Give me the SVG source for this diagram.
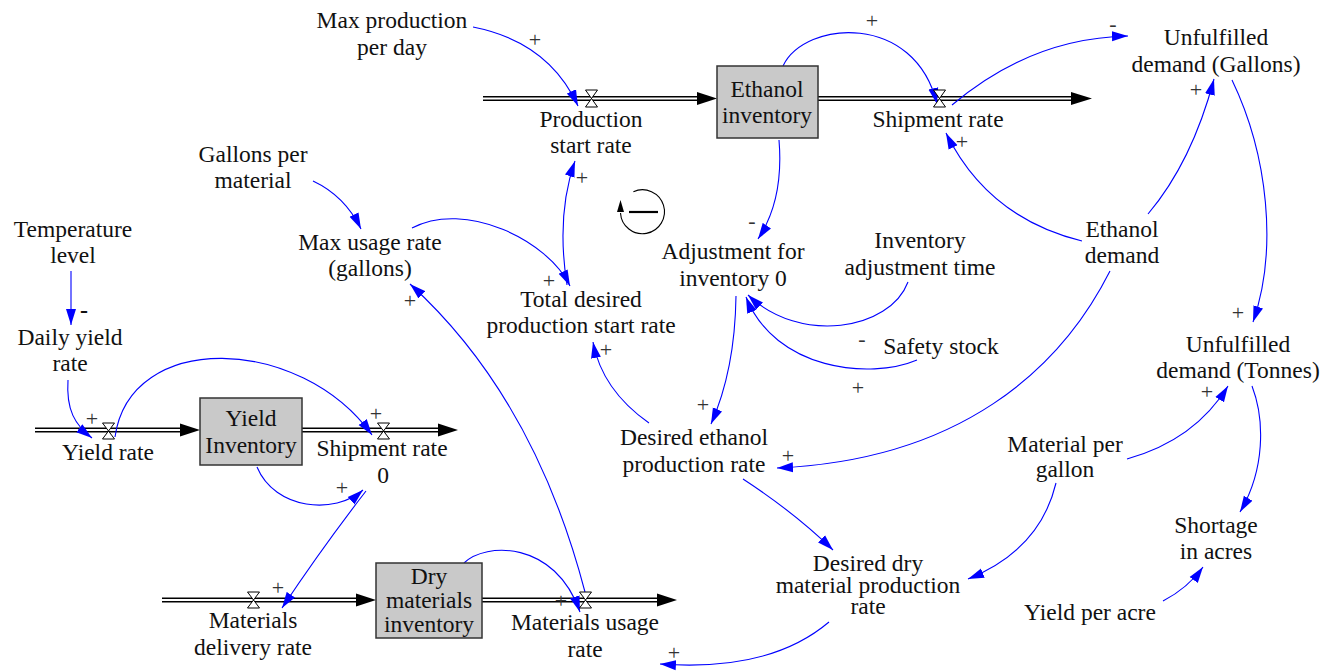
<svg xmlns="http://www.w3.org/2000/svg" width="1336" height="671" viewBox="0 0 1336 671" font-family="'Liberation Serif', Tinos, 'Times New Roman', Times, 'DejaVu Serif', serif">
<defs>
<style>
text { font-family: "Liberation Serif", Tinos, "Times New Roman", Times, "DejaVu Serif", serif; font-size: 23.5px; fill: #111; text-anchor: middle; }
.pol { fill: #333; font-size: 22px; }
.neg { fill: #111; font-size: 24px; font-weight: bold; }
.lnk { fill: none; stroke: #0000ff; stroke-width: 1.1; marker-end: url(#ah); }
.stock { fill: #c9c9c9; stroke: #333; stroke-width: 1.5; }
.pipeO { stroke: #000; stroke-width: 5; fill: none; }
.pipeI { stroke: #fff; stroke-width: 2; fill: none; }
.valve { fill: #fff; stroke: #000; stroke-width: 1; }
.fh { fill: #000; }
.loop { fill: none; stroke: #000; stroke-width: 1.1; }
</style>
<marker id="ah" markerUnits="userSpaceOnUse" markerWidth="17" markerHeight="11" refX="16" refY="5.5" orient="auto" viewBox="0 0 17 11">
<path d="M0,0.5 L16,5.5 L0,10.5 z" fill="#0000ff"/>
</marker>
</defs>

<g id="flows">
<path class="pipeO" d="M483,98.5 H699"/><path class="pipeI" d="M481,98.5 H699"/>
<path class="fh" d="M697,92 L717,98.5 L697,105 z"/>
<path class="pipeO" d="M818,98.5 H1074"/><path class="pipeI" d="M818,98.5 H1074"/>
<path class="fh" d="M1071,92 L1092,98.5 L1071,105 z"/>
<path class="pipeO" d="M35,430 H182"/><path class="pipeI" d="M33,430 H182"/>
<path class="fh" d="M180,423.5 L200,430 L180,436.5 z"/>
<path class="pipeO" d="M302,430 H440"/><path class="pipeI" d="M302,430 H440"/>
<path class="fh" d="M438,423.5 L458,430 L438,436.5 z"/>
<path class="pipeO" d="M162,600 H358"/><path class="pipeI" d="M160,600 H358"/>
<path class="fh" d="M356,593.5 L376,600 L356,606.5 z"/>
<path class="pipeO" d="M482,600 H659"/><path class="pipeI" d="M482,600 H659"/>
<path class="fh" d="M657,593.5 L677,600 L657,606.5 z"/>
</g>

<g id="connectors">
<path class="lnk" d="M473,27 Q549,42 578,106"/>
<path class="lnk" d="M783,66 C805,20 915,12 937,104"/>
<path class="lnk" d="M952,105 Q1031,38 1128,36"/>
<path class="lnk" d="M1148,214 Q1192,162 1214,79"/>
<path class="lnk" d="M1232,80 C1268,155 1278,250 1253,322"/>
<path class="lnk" d="M1082,241 Q988,218 946,133"/>
<path class="lnk" d="M567,285 Q556,215 575,161"/>
<path class="lnk" d="M412,228 C465,200 548,240 570,286"/>
<path class="lnk" d="M585,592 Q534,397 410,284"/>
<path class="lnk" d="M464,563 C485,542 555,540 580,612"/>
<path class="lnk" d="M366,491 Q322,548 282,608"/>
<path class="lnk" d="M257,467 C275,510 335,515 363,490"/>
<path class="lnk" d="M115,437 C130,330 300,335 372,435"/>
<path class="lnk" d="M68,380 C66,410 75,425 92,438"/>
<path class="lnk" d="M71,271 L71,325"/>
<path class="lnk" d="M313,181 Q345,196 361,229"/>
<path class="lnk" d="M779,140 Q784,200 758,239"/>
<path class="lnk" d="M908,282 C890,330 800,345 748,295"/>
<path class="lnk" d="M917,360 C870,380 775,370 746,297"/>
<path class="lnk" d="M736,296 Q735,370 711,424"/>
<path class="lnk" d="M649,423 Q602,390 593,342"/>
<path class="lnk" d="M1110,271 C1060,370 960,460 777,468"/>
<path class="lnk" d="M743,479 Q795,513 833,550"/>
<path class="lnk" d="M1056,483 Q1040,550 968,579"/>
<path class="lnk" d="M1127,459 Q1195,440 1228,386"/>
<path class="lnk" d="M1252,386 C1265,420 1265,470 1240,512"/>
<path class="lnk" d="M1163,601 Q1188,588 1203,567"/>
<path class="lnk" d="M829,622 Q770,672 660,664"/>
</g>

<g id="polarities">
<text class="pol" x="535" y="47">+</text>
<text class="pol" x="872" y="28">+</text>
<text class="pol" x="1113" y="31">-</text>
<text class="pol" x="1196" y="97">+</text>
<text class="pol" x="962" y="149">+</text>
<text class="pol" x="582" y="185">+</text>
<text class="pol" x="549" y="288">+</text>
<text class="pol" x="410" y="308">+</text>
<text class="pol" x="606" y="357">+</text>
<text class="pol" x="752" y="228">-</text>
<text class="pol" x="862" y="346">-</text>
<text class="pol" x="858" y="395">+</text>
<text class="pol" x="703" y="412">+</text>
<text class="pol" x="788" y="463">+</text>
<text class="pol" x="1238" y="320">+</text>
<text class="pol" x="1207" y="399">+</text>
<text class="pol" x="674" y="660">+</text>
<text class="neg" x="84" y="318">-</text>
<text class="pol" x="92" y="426">+</text>
<text class="pol" x="376" y="421">+</text>
<text class="pol" x="342" y="495">+</text>
<text class="pol" x="278" y="595">+</text>
<text class="pol" x="561" y="608">+</text>
</g>

<g id="loop">
<path class="loop" d="M633.4,191.7 A22 22 0 1 1 620.5,213"/>
<path class="fh" d="M620.5,200 L624,212 L617,212 z"/>
<line x1="629" y1="212" x2="658" y2="212" stroke="#000" stroke-width="2.2"/>
</g>

<g id="n_max_production"><text x="392" y="28">Max production</text><text x="392" y="55">per day</text></g>
<g id="n_production_start_rate"><path class="valve" d="M585.5,90 H597.5 L585.5,107 H597.5 z"/><text x="591" y="127">Production</text><text x="591" y="153">start rate</text></g>
<g id="n_ethanol_inventory"><rect class="stock" x="717" y="66" width="101" height="72"/><text x="767" y="97">Ethanol</text><text x="767" y="123">inventory</text></g>
<g id="n_shipment_rate"><path class="valve" d="M933.5,90 H945.5 L933.5,107 H945.5 z"/><text x="938" y="127">Shipment rate</text></g>
<g id="n_unfulfilled_gallons"><text x="1216" y="45">Unfulfilled</text><text x="1216" y="72">demand (Gallons)</text></g>
<g id="n_gallons_per_material"><text x="253" y="162">Gallons per</text><text x="253" y="188">material</text></g>
<g id="n_temperature_level"><text x="73" y="237">Temperature</text><text x="73" y="263">level</text></g>
<g id="n_max_usage_rate"><text x="370" y="250">Max usage rate</text><text x="370" y="276">(gallons)</text></g>
<g id="n_total_desired"><text x="581" y="307">Total desired</text><text x="581" y="333">production start rate</text></g>
<g id="n_adjustment"><text x="733" y="259">Adjustment for</text><text x="733" y="286">inventory 0</text></g>
<g id="n_inventory_adjustment_time"><text x="920" y="248">Inventory</text><text x="920" y="275">adjustment time</text></g>
<g id="n_safety_stock"><text x="941" y="354">Safety stock</text></g>
<g id="n_ethanol_demand"><text x="1122" y="237">Ethanol</text><text x="1122" y="263">demand</text></g>
<g id="n_unfulfilled_tonnes"><text x="1238" y="352">Unfulfilled</text><text x="1238" y="378">demand (Tonnes)</text></g>
<g id="n_desired_ethanol"><text x="694" y="445">Desired ethanol</text><text x="694" y="472">production rate</text></g>
<g id="n_material_per_gallon"><text x="1065" y="452">Material per</text><text x="1065" y="477">gallon</text></g>
<g id="n_shortage"><text x="1216" y="533">Shortage</text><text x="1216" y="559">in acres</text></g>
<g id="n_yield_per_acre"><text x="1090" y="620">Yield per acre</text></g>
<g id="n_desired_dry"><text x="868" y="571">Desired dry</text><text x="868" y="593">material production</text><text x="868" y="614">rate</text></g>
<g id="n_daily_yield_rate"><text x="70" y="345">Daily yield</text><text x="70" y="371">rate</text></g>
<g id="n_yield_rate"><path class="valve" d="M102.5,423 H114.5 L102.5,439 H114.5 z"/><text x="108" y="460">Yield rate</text></g>
<g id="n_yield_inventory"><rect class="stock" x="200" y="398" width="102" height="67"/><text x="251" y="426">Yield</text><text x="251" y="453">Inventory</text></g>
<g id="n_shipment_rate_0"><path class="valve" d="M377.5,423 H389.5 L377.5,439 H389.5 z"/><text x="382" y="456">Shipment rate</text><text x="383" y="483">0</text></g>
<g id="n_dry_inventory"><rect class="stock" x="376" y="563" width="106" height="75"/><text x="429" y="584">Dry</text><text x="429" y="608">materials</text><text x="429" y="632">inventory</text></g>
<g id="n_materials_delivery"><path class="valve" d="M247.5,592 H259.5 L247.5,608 H259.5 z"/><text x="253" y="628">Materials</text><text x="253" y="655">delivery rate</text></g>
<g id="n_materials_usage"><path class="valve" d="M579.5,592 H591.5 L579.5,608 H591.5 z"/><text x="585" y="630">Materials usage</text><text x="585" y="657">rate</text></g>
</svg>
